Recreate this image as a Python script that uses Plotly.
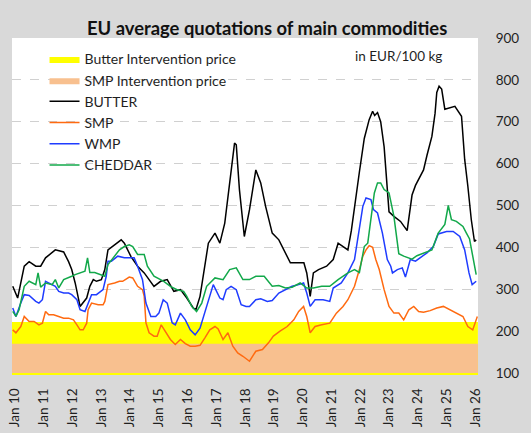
import plotly.graph_objects as go

# ---------------- data ----------------
tick_years = list(range(2010, 2027))
tick_labels = ["Jan 10", "Jan 11", "Jan 12", "Jan 13", "Jan 14", "Jan 15", "Jan 16", "Jan 17",
               "Jan 18", "Jan 19", "Jan 20", "Jan 21", "Jan 22", "Jan 23", "Jan 24", "Jan 25", "Jan 26"]

butter_intervention = 221.75
smp_intervention = 169.80
band_start, band_end = 2009.89, 2026.09

butter = [(2009.92, 307), (2010.09, 279), (2010.32, 355), (2010.49, 366), (2010.72, 355), (2010.89, 355),
          (2011.06, 375), (2011.40, 394), (2011.69, 389), (2011.86, 366), (2011.97, 347), (2012.09, 315),
          (2012.26, 259), (2012.49, 279), (2012.60, 307), (2012.72, 323), (2012.83, 319), (2013.00, 323),
          (2013.12, 347), (2013.23, 394), (2013.46, 406), (2013.69, 418), (2013.80, 410), (2014.03, 378),
          (2014.26, 355), (2014.49, 339), (2014.83, 307), (2015.06, 319), (2015.29, 323), (2015.52, 295),
          (2015.75, 299), (2015.97, 279), (2016.20, 255), (2016.29, 252), (2016.43, 283), (2016.54, 331),
          (2016.72, 410), (2016.95, 434), (2017.12, 410), (2017.29, 458), (2017.46, 554), (2017.63, 649),
          (2017.69, 645), (2017.80, 538), (2017.97, 426), (2018.15, 490), (2018.37, 585), (2018.54, 554),
          (2018.71, 498), (2018.94, 434), (2019.17, 418), (2019.40, 387), (2019.57, 363), (2019.74, 363),
          (2020.04, 363), (2020.14, 339), (2020.26, 283), (2020.37, 339), (2020.55, 347), (2020.83, 355),
          (2021.06, 371), (2021.23, 410), (2021.40, 402), (2021.57, 394), (2021.69, 440), (2021.80, 500),
          (2021.97, 580), (2022.14, 660), (2022.31, 705), (2022.43, 725), (2022.50, 715), (2022.60, 722),
          (2022.71, 700), (2022.83, 640), (2022.92, 560), (2023.00, 485), (2023.17, 474), (2023.40, 462),
          (2023.63, 440), (2023.80, 525), (2023.92, 548), (2024.20, 585), (2024.32, 620), (2024.49, 665),
          (2024.60, 720), (2024.66, 770), (2024.74, 785), (2024.83, 778), (2024.94, 730), (2025.12, 733),
          (2025.29, 737), (2025.52, 713), (2025.63, 610), (2025.74, 546), (2025.86, 466), (2025.97, 414),
          (2026.03, 418)]

smp = [(2009.92, 203), (2010.03, 196), (2010.20, 211), (2010.32, 235), (2010.49, 223), (2010.66, 223),
       (2010.83, 215), (2010.95, 219), (2011.06, 247), (2011.17, 239), (2011.34, 239), (2011.52, 235),
       (2011.69, 231), (2011.86, 231), (2012.03, 227), (2012.15, 215), (2012.26, 203), (2012.37, 203),
       (2012.49, 219), (2012.54, 251), (2012.66, 267), (2012.89, 263), (2013.06, 263), (2013.12, 271),
       (2013.23, 311), (2013.46, 315), (2013.63, 319), (2013.74, 319), (2013.97, 329), (2014.09, 327),
       (2014.26, 307), (2014.43, 299), (2014.49, 283), (2014.55, 220), (2014.66, 196), (2014.83, 188),
       (2014.94, 188), (2015.08, 215), (2015.23, 200), (2015.40, 180), (2015.57, 168), (2015.75, 180),
       (2015.92, 170), (2016.09, 164), (2016.26, 164), (2016.43, 166), (2016.60, 184), (2016.77, 203),
       (2016.95, 211), (2017.06, 205), (2017.23, 180), (2017.40, 196), (2017.57, 164), (2017.74, 148),
       (2017.92, 140), (2018.09, 132), (2018.15, 128), (2018.37, 152), (2018.60, 156), (2018.81, 172),
       (2018.98, 188), (2019.21, 200), (2019.46, 211), (2019.69, 227), (2019.86, 247), (2020.03, 259),
       (2020.14, 235), (2020.26, 196), (2020.43, 211), (2020.66, 215), (2020.94, 219), (2021.17, 243),
       (2021.40, 259), (2021.57, 275), (2021.80, 307), (2021.97, 347), (2022.09, 379), (2022.20, 394),
       (2022.31, 404), (2022.43, 400), (2022.54, 371), (2022.66, 347), (2022.83, 299), (2023.00, 259),
       (2023.17, 243), (2023.34, 243), (2023.51, 227), (2023.69, 251), (2023.86, 259), (2024.03, 247),
       (2024.20, 245), (2024.43, 249), (2024.66, 255), (2024.89, 259), (2025.12, 251), (2025.34, 243),
       (2025.57, 235), (2025.74, 211), (2025.91, 203), (2026.07, 235)]

wmp = [(2009.92, 255), (2010.03, 235), (2010.20, 267), (2010.32, 287), (2010.49, 285), (2010.72, 271),
       (2010.83, 267), (2010.95, 275), (2011.06, 319), (2011.17, 315), (2011.40, 307), (2011.52, 295),
       (2011.69, 291), (2011.86, 291), (2011.97, 287), (2012.15, 275), (2012.26, 251), (2012.43, 247),
       (2012.54, 267), (2012.66, 287), (2012.83, 287), (2013.06, 299), (2013.17, 331), (2013.23, 367),
       (2013.35, 367), (2013.57, 379), (2013.80, 375), (2013.97, 375), (2014.14, 375), (2014.26, 355),
       (2014.43, 323), (2014.55, 267), (2014.72, 235), (2014.89, 235), (2015.00, 243), (2015.15, 275),
       (2015.29, 267), (2015.46, 220), (2015.57, 215), (2015.75, 243), (2015.92, 227), (2016.09, 203),
       (2016.26, 191), (2016.43, 207), (2016.54, 231), (2016.72, 271), (2016.89, 311), (2017.12, 279),
       (2017.23, 275), (2017.34, 299), (2017.51, 307), (2017.69, 299), (2017.86, 263), (2018.03, 259),
       (2018.15, 259), (2018.37, 275), (2018.54, 277), (2018.77, 271), (2018.94, 273), (2019.17, 291),
       (2019.40, 299), (2019.63, 307), (2019.86, 311), (2020.03, 315), (2020.14, 291), (2020.26, 259),
       (2020.43, 275), (2020.71, 275), (2020.94, 271), (2021.06, 303), (2021.34, 315), (2021.57, 339),
       (2021.80, 371), (2021.97, 450), (2022.09, 498), (2022.20, 518), (2022.37, 514), (2022.46, 490),
       (2022.60, 482), (2022.77, 434), (2022.94, 371), (2023.06, 355), (2023.12, 339), (2023.29, 347),
       (2023.46, 351), (2023.57, 329), (2023.74, 371), (2023.92, 367), (2024.09, 375), (2024.32, 387),
       (2024.54, 402), (2024.71, 432), (2025.00, 438), (2025.23, 438), (2025.46, 426), (2025.63, 394),
       (2025.78, 339), (2025.89, 311), (2026.03, 319)]

cheddar = [(2009.92, 247), (2010.03, 235), (2010.14, 251), (2010.32, 307), (2010.49, 319), (2010.72, 311),
           (2010.80, 339), (2010.89, 305), (2011.06, 315), (2011.29, 311), (2011.40, 323), (2011.52, 303),
           (2011.69, 323), (2011.86, 327), (2011.97, 331), (2012.09, 335), (2012.26, 339), (2012.43, 343),
           (2012.52, 375), (2012.60, 340), (2012.77, 340), (2012.94, 335), (2013.12, 331), (2013.23, 359),
           (2013.46, 378), (2013.63, 394), (2013.80, 402), (2013.97, 406), (2014.09, 402), (2014.26, 383),
           (2014.49, 383), (2014.60, 355), (2014.83, 331), (2015.17, 319), (2015.40, 307), (2015.63, 299),
           (2015.86, 295), (2015.97, 283), (2016.14, 259), (2016.31, 247), (2016.49, 267), (2016.66, 307),
           (2016.95, 327), (2017.23, 323), (2017.46, 347), (2017.69, 351), (2017.92, 323), (2018.15, 323),
           (2018.37, 331), (2018.66, 331), (2018.94, 307), (2019.17, 309), (2019.40, 303), (2019.63, 305),
           (2019.91, 315), (2020.14, 303), (2020.37, 303), (2020.66, 307), (2020.94, 307), (2021.23, 323),
           (2021.57, 339), (2021.80, 347), (2021.97, 340), (2022.14, 402), (2022.26, 410), (2022.37, 474),
           (2022.49, 530), (2022.60, 554), (2022.71, 554), (2022.83, 538), (2023.00, 530), (2023.17, 474),
           (2023.34, 385), (2023.51, 379), (2023.80, 372), (2023.97, 380), (2024.20, 387), (2024.49, 394),
           (2024.71, 434), (2024.94, 455), (2025.06, 500), (2025.17, 466), (2025.34, 462), (2025.57, 450),
           (2025.69, 434), (2025.80, 420), (2025.91, 379), (2026.03, 335)]

FONT = "Lato, 'Open Sans', sans-serif"
TXT = "#1f1f1f"

fig = go.Figure()

# intervention price bands
fig.add_trace(go.Scatter(x=[band_start, band_end], y=[butter_intervention, butter_intervention],
                         mode="lines", line=dict(width=0, color="#ffff00"), fill="tozeroy",
                         fillcolor="#ffff00", name="Butter Intervention price", hoverinfo="skip"))
fig.add_trace(go.Scatter(x=[band_start, band_end], y=[smp_intervention, smp_intervention],
                         mode="lines", line=dict(width=0, color="#f8c08f"), fill="tozeroy",
                         fillcolor="#f8c08f", name="SMP Intervention price", hoverinfo="skip"))

series = [("BUTTER", butter, "#000000"), ("SMP", smp, "#ff6a10"),
          ("WMP", wmp, "#1f3cff"), ("CHEDDAR", cheddar, "#12a84a")]
for name, pts, col in series:
    fig.add_trace(go.Scatter(x=[p[0] for p in pts], y=[p[1] for p in pts], mode="lines",
                             line=dict(color=col, width=1.5), name=name))

fig.update_layout(
    width=531, height=433,
    margin=dict(l=6, r=52.5, t=38, b=59.5),
    paper_bgcolor="#d9d9d9", plot_bgcolor="#ffffff",
    font=dict(family=FONT, color=TXT, size=13.5),
    title=dict(text="<b>EU average quotations of main commodities</b>", x=0.503, xanchor="center",
               y=1 - 29 / 433, yanchor="middle", font=dict(size=18.4, color="#111111", family=FONT)),
    showlegend=True,
    legend=dict(x=0.0698, y=0.984, xanchor="left", yanchor="top", bgcolor="rgba(0,0,0,0)",
                font=dict(size=14, color=TXT, family=FONT), tracegroupgap=0),
    xaxis=dict(range=[2009.894, 2026.093], tickmode="array", tickvals=tick_years, ticktext=tick_labels,
               tickangle=-90, showgrid=False, zeroline=False, ticks="outside", ticklen=8,
               tickcolor="rgba(0,0,0,0)", showline=True, linecolor="#ffff00", linewidth=2,
               tickfont=dict(size=13.5, color=TXT)),
    yaxis=dict(range=[100, 900], side="right", dtick=100, tick0=100, showgrid=True,
               gridcolor="#d0d0d0", griddash="dash", gridwidth=1, zeroline=False,
               ticks="outside", ticklen=14, tickcolor="rgba(0,0,0,0)",
               tickfont=dict(size=13.5, color=TXT)),
    annotations=[dict(text="in EUR/100 kg", xref="paper", yref="paper", x=(352 - 6) / 472.5,
                      y=(373.5 - 56) / 335.5, xanchor="left", yanchor="middle", showarrow=False,
                      font=dict(size=13.5, color=TXT, family=FONT))],
)

fig.write_html("out.html", config={"displayModeBar": False},
               post_script="document.body.style.margin='0';document.body.style.overflow='hidden';")
